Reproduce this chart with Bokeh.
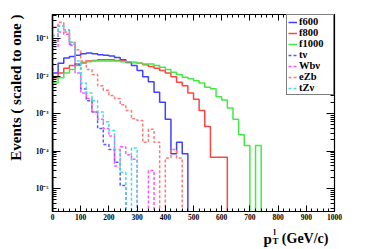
import math
from bokeh.plotting import figure
from bokeh.models import (Range1d, LinearAxis, LogAxis, FixedTicker, CustomJSTickFormatter,
                          Label, Legend, LegendItem)
from bokeh.embed import file_html
from bokeh.resources import INLINE

# ---------------- data (normalised histograms, 20 GeV bins starting at 0) ----------------
BIN_START = 0
BIN_WIDTH = 20

f600 = [0.012, 0.022, 0.030, 0.033, 0.036, 0.039, 0.041, 0.039, 0.037, 0.036,
        0.034, 0.031, 0.027, 0.023, 0.019, 0.014, 0.0095, 0.0070, 0.0037, 0.0020,
        0.0007, 0.000085, 0.00017, 0.000085]
f800 = [0.009, 0.012, 0.016, 0.019, 0.021, 0.023, 0.025, 0.026, 0.027, 0.027,
        0.027, 0.026, 0.025, 0.024, 0.023, 0.022, 0.020, 0.018, 0.016, 0.014,
        0.012, 0.0095, 0.0068, 0.0055, 0.0035, 0.0024, 0.0012, 0.00045, 0.000068, 0.000068,
        0.000068]
f1000 = [0.0065, 0.009, 0.012, 0.015, 0.019, 0.022, 0.024, 0.025, 0.025, 0.025,
         0.025, 0.025, 0.024, 0.024, 0.023, 0.022, 0.021, 0.021, 0.019, 0.017,
         0.015, 0.0125, 0.011, 0.0093, 0.0085, 0.0075, 0.0065, 0.0050, 0.0046, 0.0028,
         0.0023, 0.0014, 0.0007, 0.00027, 0.00014, 0.0, 0.00014]
t_nu = [0.08, 0.22, 0.17, 0.07, 0.02, 0.0045, 0.0022, 0.0011, 0.0004, 0.00015,
        0.00011, 0.00005, 0.000012]
wb_nu = [0.06, 0.15, 0.13, 0.065, 0.012, 0.0035, 0.0025, 0.0011, 0.0007, 0.0004,
         0.00025, 0.00004, 0.00013, 0.00008, 0.00006, 0.0, 0.0, 0.00003]
ezb = [0.2, 0.27, 0.15, 0.08, 0.05, 0.025, 0.015, 0.011, 0.0055, 0.0042,
       0.0030, 0.0025, 0.0017, 0.0012, 0.00072, 0.00065, 0.00017, 0.00038, 0.00017, 0.0,
       0.000065, 0.00011, 0.000065]
tz_nu = [0.12, 0.22, 0.17, 0.08, 0.025, 0.0065, 0.0035, 0.0022, 0.0011, 0.0006,
         0.00035, 0.00011, 0.000027, 0.0, 0.00012]

labels = ["f600", "f800", "f1000", "t\u03bd", "Wb\u03bd", "eZb", "tZ\u03bd"]
values = [f600, f800, f1000, t_nu, wb_nu, ezb, tz_nu]
colors = ["#4040ff", "#ff4444", "#44ea44", "#5a5aff", "#ff55ff", "#ff7a7a", "#45dcdc"]
dashes = ["solid", "solid", "solid", "3 2", "3 2", "3 2", "3 2"]

x_ticks = list(range(0, 1001, 100))
x_minor = list(range(0, 1001, 20))
y_decades = list(range(-6, 0))

# ---------------- layout ----------------
W, H = 374, 249
BL, BR, BT, BB = 52, 40, 14, 38
XMIN, XMAX = 0, 1000
LOG_TOP, LOG_BOT = -0.36, -5.613
FONT = "Liberation Serif"

p = figure(width=W, height=H, output_backend="svg", toolbar_location=None,
           x_range=Range1d(XMIN, XMAX), y_range=Range1d(10 ** LOG_BOT, 10 ** LOG_TOP),
           y_axis_type="log",
           min_border_left=BL, min_border_right=BR, min_border_top=BT, min_border_bottom=BB)
p.xgrid.visible = False
p.ygrid.visible = False
p.outline_line_color = "black"
p.outline_line_width = 1
p.background_fill_color = "white"
p.border_fill_color = "white"

FW = W - BL - BR
FH = H - BT - BB


def dx(px):
    return XMIN + (px - BL) / FW * (XMAX - XMIN)


def dy(py):
    return 10 ** (LOG_TOP - (py - BT) / FH * (LOG_TOP - LOG_BOT))


FLOOR = 1e-8
renderers = []
for vals, col, dash in zip(values, colors, dashes):
    xs = [BIN_START] + [BIN_START + i * BIN_WIDTH for i in range(len(vals) + 1)]
    ys = [FLOOR] + [v if v > 0 else FLOOR for v in vals] + [FLOOR]
    r = p.step(xs, ys, mode="after", line_color=col, line_width=1.5, line_dash=dash)
    renderers.append(r)

xt = FixedTicker(ticks=x_ticks, minor_ticks=x_minor)
yt = FixedTicker(ticks=[10.0 ** e for e in y_decades],
                 minor_ticks=[m * 10.0 ** e for e in y_decades for m in range(2, 10)])

yfmt = CustomJSTickFormatter(code="""
const e = Math.round(Math.log10(tick));
const m = {'-':'\u207b','0':'\u2070','1':'\u00b9','2':'\u00b2','3':'\u00b3','4':'\u2074',
           '5':'\u2075','6':'\u2076','7':'\u2077','8':'\u2078','9':'\u2079'};
return '10' + String(e).split('').map(c => m[c]).join('');
""")


def style(ax, major, minor, label=True, standoff=2):
    ax.axis_line_color = "black"
    ax.axis_line_width = 1.2
    ax.major_tick_line_color = "black"
    ax.minor_tick_line_color = "black"
    ax.major_tick_in = major
    ax.major_tick_out = 0
    ax.minor_tick_in = minor
    ax.minor_tick_out = 0
    ax.major_label_text_font = FONT
    ax.major_label_text_font_style = "bold"
    ax.major_label_standoff = standoff
    if label:
        ax.major_label_text_font_size = "7.5px"
        ax.major_label_text_color = "black"
    else:
        ax.major_label_text_font_size = "1px"
        ax.major_label_text_color = None


xa = p.xaxis[0]
xa.ticker = xt
style(xa, 6, 3, True, 2)
ya = p.yaxis[0]
ya.ticker = yt
ya.formatter = yfmt
style(ya, 8, 4, True, 4)
ya.axis_line_width = 1.6

top = LinearAxis(ticker=xt)
style(top, 6, 3, False, 0)
p.add_layout(top, "above")
right = LogAxis(ticker=yt)
style(right, 8, 4, False, 0)
p.add_layout(right, "right")

legend = Legend(items=[LegendItem(label=l, renderers=[r]) for l, r in zip(labels, renderers)],
                location="top_right", margin=0, padding=1, spacing=0,
                glyph_width=9, glyph_height=10, label_height=10, label_width=33,
                label_standoff=2, label_text_font=FONT, label_text_font_style="bold",
                label_text_font_size="10.5px", label_text_color="black",
                border_line_color="black", border_line_width=1,
                background_fill_color="white", background_fill_alpha=1)
p.add_layout(legend)

# axis titles: placed in side panels (so they are not clipped to the frame);
# their data-unit positions are absolute, the panel only reserves room for them.
p.add_layout(Label(x=dx(15), y=dy(14), text="Events ( scaled to one )", angle=math.pi / 2,
                   text_align="right", text_baseline="middle", text_font=FONT,
                   text_font_style="bold", text_font_size="15px", text_color="black"), "left")
p.add_layout(Label(x=dx(328), y=dy(238), text="(GeV/c)", text_align="right",
                   text_baseline="alphabetic", text_font=FONT, text_font_style="bold",
                   text_font_size="14px", text_color="black"), "below")
p.add_layout(Label(x=dx(263), y=dy(238), text="p", text_align="left",
                   text_baseline="alphabetic", text_font=FONT, text_font_style="bold",
                   text_font_size="15px", text_color="black"), "right")
p.add_layout(Label(x=dx(272), y=dy(240), text="T", text_align="left",
                   text_baseline="alphabetic", text_font=FONT, text_font_style="bold",
                   text_font_size="9px", text_color="black"), "right")
p.add_layout(Label(x=dx(273), y=dy(232), text="l", text_align="left",
                   text_baseline="alphabetic", text_font=FONT, text_font_style="bold",
                   text_font_size="8px", text_color="black"), "right")

open("out.html", "w").write(file_html(p, INLINE))
